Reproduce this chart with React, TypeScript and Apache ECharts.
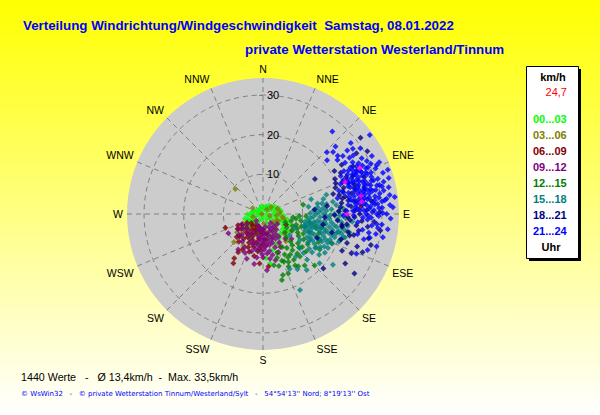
import React, { useEffect, useRef } from "react";
import * as echarts from "echarts";

const directions = ["N","NNE","NE","ENE","E","ESE","SE","SSE","S","SSW","SW","WSW","W","WNW","NW","NNW"];
const radiusTicks = [0, 10, 20, 30];
const legendLabels = ["00...03","03...06","06...09","09...12","12...15","15...18","18...21","21...24"];
const colors = ["#00ff00","#808000","#800000","#800080","#008000","#008080","#000080","#0000ff"];

// [speed km/h, direction degrees]
const h00: number[][] = [[2.3,249],[1.2,262],[0.8,300],[1.5,330],[2.0,20],[2.4,60],[2.8,85],[3.1,100],[2.2,120],[1.6,140],[4.5,229],[5.8,234],[3.4,241],[3.1,262],[2.9,278],[1.4,200],[2.5,215],[3.6,188],[4.8,170],[5.6,150],[6.2,128],[7.0,113],[6.3,103],[4.2,92],[12.6,172],[11.2,176],[9.4,165],[8.1,158],[7.3,146],[6.6,172],[5.3,196],[4.2,205],[7.8,190],[6.9,208],[9.2,186],[3.8,130],[5.0,110],[2.7,158],[3.3,75],[1.0,90],[0.6,180],[4.0,250],
[1.9,45],[2.6,35],[3.4,55],[4.0,68],[4.6,80],[3.7,110],[4.4,122],[5.2,95],[5.8,118],[1.8,300],[2.4,285],[3.2,230],[3.9,268],[4.7,255],[2.0,350],[1.1,15],[6.6,140],[5.9,163],[7.6,126]];
const h03: number[][] = [[0.3,270],[5.6,245],[4.2,114],[10.2,226],[9.3,212],[8.0,235],[3.5,95],[3.9,70],[2.7,50],[1.5,40],[1.8,105],[3.2,128],[4.8,138],[6.4,218],[7.3,228],[5.0,222],[4.1,206],[2.5,175],[6.1,160],[7.4,133],[9.4,312],[2.6,255],[8.2,120],[5.4,102],[9.0,140],[8.6,152],[3.0,300],[4.3,84],[4.9,100],[3.8,118]];
const h06: number[][] = [[10.1,250],[11.5,213],[13.3,213],[14.5,211],[12.5,184],[13.3,174],[6.4,115],[5.9,242],[6.6,236],[7.4,240],[8.2,226],[8.8,229],[9.3,221],[7.9,218],[7.0,214],[6.3,222],[5.4,230],[4.6,241],[4.0,222],[3.4,213],[4.4,205],[5.2,200],[6.2,205],[7.1,201],[8.1,206],[9.2,204],[10.1,200],[7.5,193],[8.6,196],[6.3,190],[5.2,184],[4.4,190],[3.3,198],[8.3,183],[9.5,188],[10.8,192],[10.4,210],[6.9,246],[4.7,214],[5.8,212],[3.7,232],[5.1,170],[6.4,176],[7.4,179],[4.0,178]];
const h09: number[][] = [[10.0,241],[7.5,225],[14.2,176],[8.7,217],[9.6,209],[10.8,205],[11.1,188],[10.2,181],[9.0,192],[8.1,199],[7.2,207],[6.3,215],[5.5,222],[4.9,236],[6.2,232],[5.7,192],[4.8,178],[3.9,183],[3.1,205],[2.4,225],[6.6,178],[7.5,183],[8.3,176],[9.5,170],[10.6,167],[11.4,171],[8.9,160],[7.6,162],[6.2,157],[5.2,140],[4.3,148],[6.9,145],[8.4,138],[9.5,131],[7.7,198],[5.3,207],[4.2,195],[3.3,170],[9.8,197],[10.9,215],[12.0,200],[12.8,190],[12.1,165],[7.3,238],[6.0,244],[8.1,229],[5.1,174],[6.4,186],[8.8,186],[4.4,125],
[4.6,160],[5.5,165],[6.3,170],[7.2,170],[8.0,168],[9.0,178],[10.0,174],[11.0,180],[3.6,155],[4.1,138],[5.0,152],[6.0,148],[7.0,153],[8.2,150],[9.4,152],[10.4,158],[3.0,140],[5.8,182],[6.9,190],[8.0,188],[9.3,183],[4.5,186],[3.7,190],[7.9,174],[6.8,162]];
const h12: number[][] = [[10.4,77],[8.4,98],[7.3,104],[17.3,164],[16.2,162],[16.3,157],[13.7,163],[15.3,148],[15.9,146],[16.7,141],[18.4,135],[9.2,93],[9.7,100],[10.2,108],[9.4,113],[8.5,120],[10.6,122],[11.3,116],[12.5,111],[12.1,122],[11.5,130],[12.9,130],[13.6,124],[14.4,131],[14.2,139],[13.2,139],[12.3,146],[11.6,152],[10.5,145],[9.6,150],[10.4,160],[11.6,162],[12.7,158],[13.7,152],[14.7,154],[13.2,168],[12.4,133],[16.9,122],[15.7,117],[14.9,109],[13.6,104],[7.2,130],[8.3,135],[6.9,120],[6.0,110],[11.9,100],[10.9,93],[18.7,113],[15.3,103],[9.8,135],
[8.8,108],[9.9,118],[10.8,137],[11.8,141],[12.6,150],[13.9,146],[8.0,112],[7.6,96],[11.1,106],[13.1,156]];
const h15: number[][] = [[12.7,73],[15.7,76],[11.6,81],[21.3,154],[21.8,126],[18.9,131],[17.9,142],[15.4,154],[10.7,101],[11.4,98],[12.0,95],[12.7,93],[13.4,90],[14.1,88],[14.7,86],[15.5,84],[16.2,81],[15.3,90],[16.0,92],[16.8,94],[17.4,97],[18.2,99],[18.9,100],[19.6,103],[20.4,104],[21.1,106],[19.0,108],[18.1,107],[17.2,106],[16.3,104],[15.4,100],[14.6,98],[13.8,97],[13.0,99],[12.2,101],[11.4,104],[12.1,107],[12.9,106],[13.8,105],[14.6,106],[15.4,108],[16.2,110],[17.0,112],[17.8,114],[16.4,115],[15.6,114],[14.8,113],[14.0,112],[13.2,111],[12.4,112],[13.2,116],[14.1,118],[15.0,120],[15.8,122],[16.7,120],[17.5,118],[13.4,122],[12.5,118],[11.5,111],[19.9,96],[21.6,98],[20.9,93],[19.4,91],[18.0,90],[17.3,86],[18.6,83],[20.3,86],[16.7,73],[14.0,79],[15.7,128],[14.6,127],[17.5,126],[18.4,122],[14.2,134],[16.0,136],[13.5,142],[16.4,148],
[19.2,88],[17.9,80],[15.1,80],[13.9,83],[12.8,86],[11.9,89],[13.3,101],[14.2,102],[15.0,103],[16.1,99],[17.1,101],[18.0,103],[19.1,105],[20.2,100],[21.0,101],[22.3,102],[14.4,93],[15.7,96],[17.0,91],[16.0,87],[18.9,94],[12.5,103],[11.0,108],[22.6,95],[20.4,110],[19.0,113],
[11.4,125],[13.5,119],[15.8,114.5],[18.1,111],[20.5,108.7],[12.7,111],[16.3,106],[19.4,103.5],[21.5,106],[12.7,132.6],[15.7,123],[18.5,117.6],[8.6,128],[8.8,113.6],[10.9,104.7]];
const h18: number[][] = [[15.8,56],[13.1,85],[16.3,83],[15.6,93],[18.1,91],[20.1,98],[14.9,114],[20.5,132],[24.2,121],[27.5,123],[22.0,115],[25.1,109],[22.4,109],[23.5,103],[22.0,94],[22.5,104],[24.5,100],[20.2,99],[15.4,100],[18.0,105],[31.2,52],[28.1,57],[30.7,59],[29.5,89],[21.0,59],[22.2,62],[20.2,64],[19.4,70],[18.4,74],[19.8,76],[21.4,72],[22.8,70],[23.9,74],[21.2,78],[20.0,82],[22.3,85],[23.6,82],[25.1,80],[26.4,75],[27.2,70],[24.6,67],[25.7,62],[23.4,58],[27.5,83],[26.2,88],[24.4,90],[25.0,94],[26.6,97],[28.1,94],[29.9,98],[27.3,103],[21.4,92],[19.6,85],[18.9,95],[23.7,97],[21.9,102],[20.7,108],[26.9,111],[28.3,106],[24.4,114],
[19.9,67],[20.9,74],[21.8,81],[22.9,77],[24.3,72],[23.0,66],[21.6,68],[20.4,79],[19.1,88],[20.8,88],[23.2,88],[24.9,85],[23.1,92],[21.3,97]];
const h21: number[][] = [[27.2,40],[33.5,53.5],[28.5,51],[25,47],[22.4,46],[23.6,48.5],[23.9,52],[26.6,53],[27.1,57],[31.1,62],[21.1,50],[24.4,58],[28.6,60.5],[32.1,66],[33.4,70.5],[31.2,66.7],[29.2,97],[30.1,95],[27.6,102.6],[32.8,87],[33.5,82.7],[32.1,86],[32.3,81.5],[30.9,83.5],[30.2,89.5],[31.2,90],
[30.6,68],[29.4,63],[28.4,66],[27.3,62],[26.1,60],[25.2,64],[26.8,66],[28.9,71],[30.3,73],[31.5,75],[29.6,76],[28.1,75],[27.0,72],[25.8,69],[24.7,66],[23.5,65],[24.1,70],[25.2,73],[26.3,76],[27.4,79],[28.6,81],[29.9,80],[31.0,79],[30.2,84],[29.0,85],[27.8,84],[26.6,82],[25.4,78],[24.2,75],[23.0,73],[22.2,76],[23.4,79],[24.6,81],[25.7,84],[26.8,87],[28.0,88],[29.2,91],[27.3,92],[26.0,90],[24.8,86],[23.6,84],[22.5,81],[21.6,84],[22.7,88],[23.9,87],[25.2,92],[26.4,93],[27.6,96],[28.8,95],[22.0,67],[20.9,69],[20.0,73],[19.2,78],[21.0,75],[26.0,57],[28.0,54],[24.9,54],[23.2,54],[29.6,56],[30.0,65],[32.4,78],[33.0,74],[32.0,71],[30.8,77],[28.3,78],[26.9,69],[25.3,67],[23.1,62],[21.8,64],[27.9,68],[29.2,69],[31.4,83],[24.0,95],[25.4,99],[27.1,100],[28.9,100],[30.8,101],[26.2,104],[24.4,102],[32.2,92],[29.8,106],[27.9,109],[25.6,113],[22.9,91],[21.1,88],[20.3,91],[31.7,97],
[25.6,71],[26.7,74],[27.8,77],[25.0,76],[26.2,79],[27.1,81],[24.5,78],[23.8,76],[25.9,81],[24.0,68],[25.1,70],[26.4,72],[27.5,74],[28.6,73],[29.2,73],[28.2,69],[27.0,67],[26.0,65],[25.0,62],[24.2,63],[23.0,70],[22.6,72],[24.3,83],[25.3,82],[26.2,85],[27.2,86],[28.3,85],[29.3,87],[30.1,87],[28.7,90],[27.6,89],[26.5,91],[25.5,88],[24.4,88],[23.4,86],[23.1,82],[22.1,79],[29.1,78],[30.3,76],[29.5,82],[28.4,83],[27.0,77],[26.1,77],[24.9,74],[23.9,71],[22.9,68],[25.8,66],[26.5,63],[27.9,64],[29.0,66]];
const magentaPoints: number[][] = [[27,64.6],[22.2,68.7],[25.1,79.6],[25.1,83],[21.2,90]];
const redPoints: number[][] = [[24.7,86]];
const hourSeries = [h00,h03,h06,h09,h12,h15,h18,h21];

export default function App() {
  const ref = useRef<HTMLDivElement>(null);
  useEffect(() => {
    document.body.style.margin = "0";
    const chart = echarts.init(ref.current!, null, { renderer: "svg" });
    const arial = "Liberation Sans";
    const t = (text: string, x: number, y: number, fill: string, fontSize: number, fontWeight = "normal", align = "left", fontFamily = arial) => ({
      type: "text", x, y, z: 10,
      style: { text, fill, fontSize, fontWeight, fontFamily, align, verticalAlign: "middle" },
    });
    chart.setOption({
      animation: false,
      backgroundColor: { type: "linear", x: 0, y: 0, x2: 0, y2: 1, colorStops: [{ offset: 0, color: "#ffff00" }, { offset: 1, color: "#ffffff" }] },
      polar: { center: [263, 214], radius: 136 },
      angleAxis: {
        type: "value", min: 0, max: 360, interval: 22.5, startAngle: 90, clockwise: true,
        axisLine: { show: false }, axisTick: { show: false },
        axisLabel: { color: "#000", fontFamily: arial, fontSize: 10.5, margin: 4, formatter: (v: number) => directions[Math.round(v / 22.5) % 16] },
        splitLine: { show: true, lineStyle: { color: "#808080", type: [5, 4], width: 1 } },
      },
      radiusAxis: {
        type: "value", min: 0, max: 34.3, interval: 10,
        axisLine: { show: false },
        axisTick: { show: true, length: 4, inside: false, customValues: radiusTicks, lineStyle: { color: "#808080" } },
        axisLabel: { inside: false, color: "#000", fontFamily: arial, fontSize: 11, margin: -4, align: "left", customValues: radiusTicks.slice(1), rotate: 0 },
        splitLine: { show: true, lineStyle: { color: "#808080", type: [5, 4], width: 1 } },
      },
      series: [
        ...hourSeries.map((data, i) => ({
          type: "scatter", coordinateSystem: "polar", name: legendLabels[i], data,
          symbol: "diamond", symbolSize: 6, itemStyle: { color: colors[i] }, silent: true, z: 3 + i,
        })),
        { type: "scatter", coordinateSystem: "polar", name: "Mittel", data: magentaPoints, symbol: "diamond", symbolSize: 6, itemStyle: { color: "#ff00ff" }, silent: true, z: 12 },
        { type: "scatter", coordinateSystem: "polar", name: "Aktuell", data: redPoints, symbol: "diamond", symbolSize: 3, itemStyle: { color: "#ff0000" }, silent: true, z: 13 },
      ],
      graphic: [
        { type: "circle", z: -1, shape: { cx: 263, cy: 214, r: 136 }, style: { fill: "#cccccc" } },
        t("Verteilung Windrichtung/Windgeschwindigkeit  Samstag, 08.01.2022", 23, 25, "#0000ff", 13.33, "bold"),
        t("private Wetterstation Westerland/Tinnum", 245, 49, "#0000ff", 13.33, "bold"),
        { type: "rect", z: 8, shape: { x: 529, y: 69, width: 52, height: 192 }, style: { fill: "#000000" } },
        { type: "rect", z: 9, shape: { x: 526.5, y: 66.5, width: 52, height: 192 }, style: { fill: "#ffffff", stroke: "#000000", lineWidth: 1 } },
        t("km/h", 553, 77, "#000000", 11, "bold", "center"),
        t("24,7", 567, 92, "#ff0000", 11, "normal", "right"),
        ...legendLabels.map((label, i) => t(label, 533, 119 + i * 16, colors[i], 11, "bold")),
        t("Uhr", 551, 247, "#000000", 11, "bold", "center"),
        t("1440 Werte   -   Ø 13,4km/h  -  Max. 33,5km/h", 21, 377, "#000000", 10.7),
        t("© WsWin32   -   © private Wetterstation Tinnum/Westerland/Sylt   -   54°54'13'' Nord; 8°19'13'' Ost", 21, 394, "#0000ff", 7, "normal", "left", "DejaVu Sans"),
      ],
    });
    return () => chart.dispose();
  }, []);
  return <div ref={ref} style={{ width: 600, height: 415 }} />;
}
